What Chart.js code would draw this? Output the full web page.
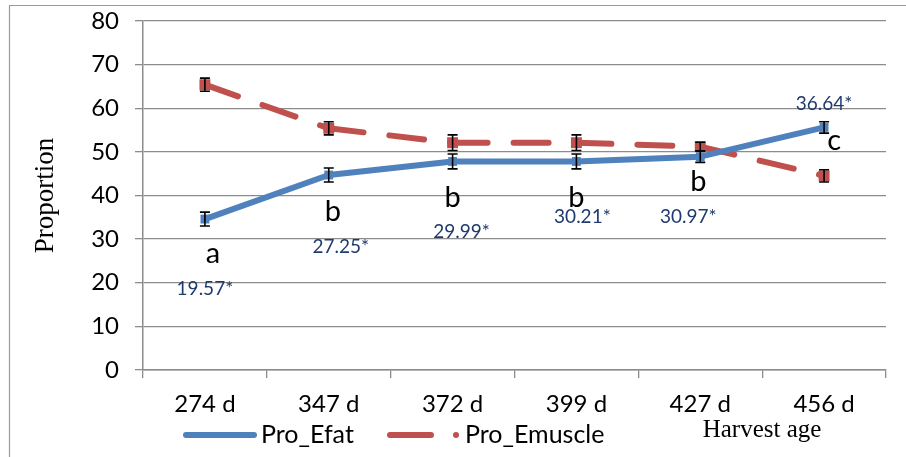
<!DOCTYPE html>
<html>
<head>
<meta charset="utf-8">
<script src="https://cdn.jsdelivr.net/npm/chart.js@4"></script>
<style>
  html, body { margin: 0; padding: 0; background: #fff; }
  #wrap { width: 906px; height: 457px; position: relative; }
</style>
</head>
<body>
<div id="wrap"><canvas id="chart" width="906" height="457"></canvas></div>
<script>
// Harvest age categories
const categories = ['274 d', '347 d', '372 d', '399 d', '427 d', '456 d'];

// Series values
const efat = [34.6, 44.7, 47.8, 47.8, 48.9, 55.6];
const efatErr = [1.6, 1.6, 1.7, 1.7, 1.3, 1.3];
const emuscle = [65.4, 55.4, 52.1, 52.1, 51.2, 44.5];
const emuscleErr = [1.5, 1.5, 1.8, 1.8, 1.0, 1.4];

// Significance letters and starred values on the Efat series
const letters = ['a', 'b', 'b', 'b', 'b', 'c'];
const letterY = [26.6, 36.2, 39.6, 39.6, 43.2, 52.5];
const letterDx = [8, 4, 0, 0, -2, 10];
const starLabels = ['19.57*', '27.25*', '29.99*', '30.21*', '30.97*', '36.64*'];
const starY = [18.6, 28.3, 31.6, 35.0, 35.0, 61.0];
const starDx = [0, 12, 9, 6, -12, 0];

const yTicks = [0, 10, 20, 30, 40, 50, 60, 70, 80];

const BLUE = '#4F81BD';
const RED = '#C0504D';
const NAVY = '#1F3A6E';
const GRID = '#8c8c8c';

// outer frame of the figure
const framePlugin = {
    id: 'frame',
    beforeDraw(chart) {
        const ctx = chart.ctx;
        ctx.save();
        ctx.strokeStyle = '#9a9a9a';
        ctx.lineWidth = 1.2;
        ctx.beginPath();
        ctx.moveTo(9.5, 457);
        ctx.lineTo(9.5, 5.5);
        ctx.lineTo(906, 5.5);
        ctx.stroke();
        ctx.restore();
    }
};

// error bars + annotations
const errorPlugin = {
    id: 'errorBars',
    afterDatasetsDraw(chart) {
        const ctx = chart.ctx;
        const x = chart.scales.x;
        const y = chart.scales.y;
        const errs = [efatErr, emuscleErr];
        ctx.save();
        ctx.strokeStyle = '#000';
        ctx.lineWidth = 1.6;
        chart.data.datasets.forEach((ds, di) => {
            ds.data.forEach((v, i) => {
                const px = x.getPixelForValue(i);
                const top = y.getPixelForValue(v + errs[di][i]);
                const bot = y.getPixelForValue(v - errs[di][i]);
                ctx.beginPath();
                ctx.moveTo(px, top); ctx.lineTo(px, bot);
                ctx.moveTo(px - 5, top); ctx.lineTo(px + 5, top);
                ctx.moveTo(px - 5, bot); ctx.lineTo(px + 5, bot);
                ctx.stroke();
            });
        });

        ctx.textAlign = 'center';
        ctx.textBaseline = 'middle';
        ctx.fillStyle = '#000';
        ctx.font = '29px Lato';
        letters.forEach((t, i) => {
            ctx.fillText(t, x.getPixelForValue(i) + letterDx[i], y.getPixelForValue(letterY[i]));
        });
        ctx.fillStyle = NAVY;
        ctx.font = '19px Lato';
        starLabels.forEach((t, i) => {
            ctx.fillText(t, x.getPixelForValue(i) + starDx[i], y.getPixelForValue(starY[i]));
        });
        ctx.restore();
    },
    afterDraw(chart) {
        // legend row + axis caption
        const ctx = chart.ctx;
        const ly = 435;
        ctx.save();
        ctx.lineCap = 'round';
        ctx.lineWidth = 6;
        ctx.strokeStyle = BLUE;
        ctx.beginPath(); ctx.moveTo(186, ly); ctx.lineTo(254, ly); ctx.stroke();
        ctx.strokeStyle = RED;
        ctx.beginPath(); ctx.moveTo(390, ly); ctx.lineTo(431, ly); ctx.stroke();
        ctx.fillStyle = RED;
        ctx.beginPath(); ctx.arc(456, ly, 3, 0, Math.PI * 2); ctx.fill();

        ctx.fillStyle = '#000';
        ctx.font = '25px Lato';
        ctx.textAlign = 'left';
        ctx.textBaseline = 'middle';
        const ds = chart.data.datasets;
        ctx.fillText(ds[0].label, 261, ly);
        ctx.fillText(ds[1].label, 465, ly);

        ctx.font = '25px "Liberation Serif"';
        ctx.textAlign = 'center';
        ctx.fillText('Harvest age', 762, 430);
        ctx.restore();
    }
};

new Chart(document.getElementById('chart'), {
    type: 'line',
    data: {
        labels: categories,
        datasets: [
            {
                label: 'Pro_Efat',
                data: efat,
                borderColor: BLUE,
                backgroundColor: BLUE,
                borderWidth: 6,
                pointRadius: 2,
                pointStyle: 'rect',
                tension: 0,
                borderCapStyle: 'round',
                borderJoinStyle: 'round'
            },
            {
                label: 'Pro_Emuscle',
                data: emuscle,
                borderColor: RED,
                backgroundColor: RED,
                borderWidth: 6,
                borderDash: [35, 26],
                borderCapStyle: 'round',
                pointRadius: 3.5,
                pointStyle: 'rect',
                tension: 0,
                // restart the dash pattern at every point, like the original
                segment: {
                    borderDashOffset: ctx => (ctx.p0DataIndex % 2 ? 0.01 : 0)
                }
            }
        ]
    },
    options: {
        responsive: false,
        animation: false,
        devicePixelRatio: 1,
        layout: { padding: { top: 21, right: 20, left: 0, bottom: 0 } },
        plugins: {
            legend: { display: false },
            tooltip: { enabled: false }
        },
        scales: {
            x: {
                offset: true,
                afterFit(scale) { scale.height = 87; },
                grid: {
                    offset: true,
                    drawOnChartArea: false,
                    drawTicks: true,
                    tickLength: 8,
                    color: GRID,
                    lineWidth: 1.3
                },
                border: { color: GRID, width: 1.5 },
                ticks: {
                    color: '#000',
                    font: { family: 'Lato', size: 24 },
                    padding: 12,
                    maxRotation: 0
                }
            },
            y: {
                min: 0,
                max: 80,
                afterFit(scale) {
                    scale.width = 143;
                    scale.paddingTop = 0;
                    scale.paddingBottom = 0;
                },
                afterBuildTicks(scale) { scale.ticks = yTicks.map(v => ({ value: v })); },
                grid: {
                    color: GRID,
                    lineWidth: 1.3,
                    tickLength: 8
                },
                border: { color: GRID, width: 1.5 },
                ticks: {
                    color: '#000',
                    font: { family: 'Lato', size: 24 },
                    padding: 16
                },
                title: {
                    display: true,
                    text: 'Proportion',
                    color: '#000',
                    font: { family: 'Liberation Serif', size: 27 },
                    padding: { top: 30 }
                }
            }
        }
    },
    plugins: [framePlugin, errorPlugin]
});
</script>
</body>
</html>
